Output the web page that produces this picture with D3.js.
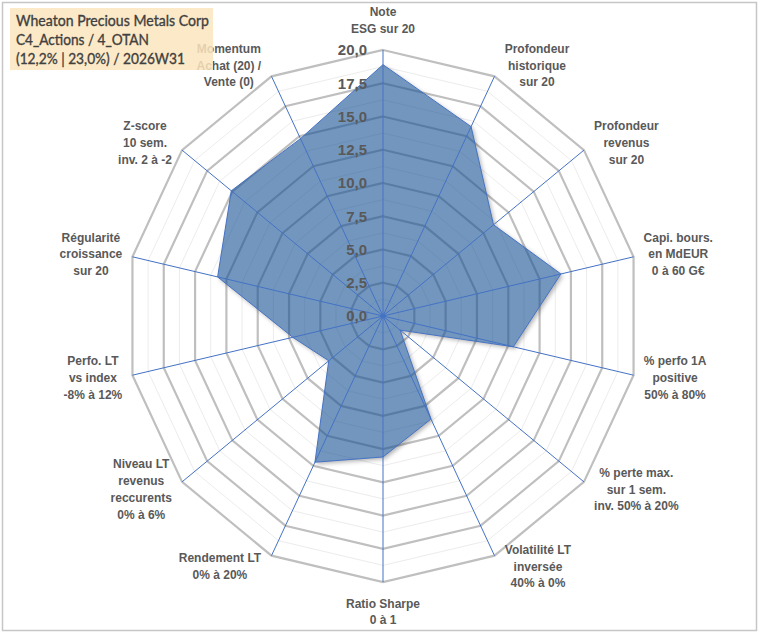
<!DOCTYPE html>
<html>
<head>
<meta charset="utf-8">
<script src="https://cdn.jsdelivr.net/npm/d3@7"></script>
<style>
  body { margin: 0; background: #fff; }
  svg { display: block; }
</style>
</head>
<body>
<div id="container"></div>
<script>
// Données du radar : libellés des axes (multi-lignes) et valeurs sur 20

const axisLabels = [
  ["Note", "ESG sur 20"],
  ["Profondeur", "historique", "sur 20"],
  ["Profondeur", "revenus", "sur 20"],
  ["Capi. bours.", "en MdEUR", "0 à 60 G€"],
  ["% perfo 1A", "positive", "50% à 80%"],
  ["% perte max.", "sur 1 sem.", "inv. 50% à 20%"],
  ["Volatilité LT", "inversée", "40% à 0%"],
  ["Ratio Sharpe", "0 à 1"],
  ["Rendement LT", "0% à 20%"],
  ["Niveau LT", "revenus", "reccurents", "0% à 6%"],
  ["Perfo. LT", "vs index", "-8% à 12%"],
  ["Régularité", "croissance", "sur 20"],
  ["Z-score", "10 sem.", "inv. 2 à -2"],
  ["Momentum", "Achat (20) /", "Vente (0)"]
];

const scores = [18.9, 15.8, 11.0, 14.2, 10.4, 1.7, 8.6, 10.6, 12.2, 5.4, 7.2, 13.2, 15.1, 14.8];

const tickValues = [0, 2.5, 5, 7.5, 10, 12.5, 15, 17.5, 20];
const minorTicks = [1.25, 3.75, 6.25, 8.75, 11.25, 13.75, 16.25, 18.75];

const titleLines = ["Wheaton Precious Metals Corp", "C4_Actions / 4_OTAN", "(12,2% | 23,0%) / 2026W31"];
const titleWidths = [193, 133, 169];

// Recuadro general

const WIDTH = 760;
const HEIGHT = 633;
const CX = 383;
const CY = 316;
const RX = 257;   // le radar d'origine est un peu écrasé horizontalement
const RY = 266;

const svg = d3.select('#container')
              .append('svg')
                .attr('width', WIDTH)
                .attr('height', HEIGHT);

svg.append('rect')
   .attr('x', 2.5).attr('y', 2.5)
   .attr('width', WIDTH - 6).attr('height', HEIGHT - 5)
   .attr('fill', '#fff')
   .attr('stroke', '#c6c6c6')
   .attr('stroke-width', 1.5);

const chart = svg.append('g')
                 .attr('transform', `translate(${CX}, ${CY})`);

// Escalas: angle par axe, rayon en x et en y

const n = axisLabels.length;
const angle = d3.scaleLinear().domain([0, n]).range([0, 2 * Math.PI]);
const rX = d3.scaleLinear().domain([0, 20]).range([0, RX]);
const rY = d3.scaleLinear().domain([0, 20]).range([0, RY]);

const px = (i, v) => rX(v) * Math.sin(angle(i));
const py = (i, v) => -rY(v) * Math.cos(angle(i));

const ring = d3.line().curve(d3.curveLinearClosed);
const ringPoints = v => d3.range(n).map(i => [px(i, v), py(i, v)]);
const seriePath = ring(scores.map((v, i) => [px(i, v), py(i, v)]));

// Ombre portée : copie floue décalée, masquée par la forme elle-même
const defs = svg.append('defs');
defs.append('filter')
      .attr('id', 'blur')
      .attr('x', '-10%').attr('y', '-10%')
      .attr('width', '120%').attr('height', '120%')
    .append('feGaussianBlur')
      .attr('stdDeviation', 2);

const mask = defs.append('mask')
                 .attr('id', 'outside')
                 .attr('maskUnits', 'userSpaceOnUse')
                 .attr('x', -CX).attr('y', -CY)
                 .attr('width', WIDTH).attr('height', HEIGHT);
mask.append('rect')
    .attr('x', -CX).attr('y', -CY)
    .attr('width', WIDTH).attr('height', HEIGHT)
    .attr('fill', '#fff');
mask.append('path')
    .attr('d', seriePath)
    .attr('fill', '#000');

// Grille secondaire puis principale

chart.append('g')
     .selectAll('path')
     .data(minorTicks)
     .enter()
   .append('path')
     .attr('d', d => ring(ringPoints(d)))
     .attr('fill', 'none')
     .attr('stroke', '#ececec')
     .attr('stroke-width', 1);

chart.append('g')
     .selectAll('path')
     .data(tickValues.filter(d => d > 0))
     .enter()
   .append('path')
     .attr('d', d => ring(ringPoints(d)))
     .attr('fill', 'none')
     .attr('stroke', '#bfbfbf')
     .attr('stroke-width', 2.2);

// Série

chart.append('g')
     .attr('mask', 'url(#outside)')
   .append('path')
     .attr('d', seriePath)
     .attr('transform', 'translate(2, 2)')
     .attr('fill', '#000')
     .attr('fill-opacity', 0.3)
     .attr('filter', 'url(#blur)');

chart.append('path')
     .attr('d', seriePath)
     .attr('fill', '#165093')
     .attr('fill-opacity', 0.6)
     .attr('stroke', '#4472c4')
     .attr('stroke-width', 1);

// Axes radiaux

chart.append('g')
     .selectAll('line')
     .data(d3.range(n))
     .enter()
   .append('line')
     .attr('x1', 0).attr('y1', 0)
     .attr('x2', i => px(i, 20))
     .attr('y2', i => py(i, 20))
     .attr('stroke', '#4472c4')
     .attr('stroke-width', 1);

chart.append('circle')
     .attr('r', 2.5)
     .attr('fill', '#4472c4');

// Graduations sur l'axe vertical

const fr = d3.formatLocale({ decimal: ',', thousands: ' ', grouping: [3], currency: ['', '€'] });
const fmt = fr.format('.1f');

chart.append('g')
     .selectAll('text')
     .data(tickValues)
     .enter()
   .append('text')
     .attr('x', -16)
     .attr('y', d => py(0, d))
     .attr('dy', '0.35em')
     .attr('text-anchor', 'end')
     .attr('font-family', 'Liberation Sans, Arial, sans-serif')
     .attr('font-weight', 'bold')
     .attr('font-size', 15)
     .attr('fill', '#595959')
     .text(fmt);

// Libellés des axes

const LH = 16.7;
const labels = chart.append('g')
                    .selectAll('g')
                    .data(axisLabels)
                    .enter()
                  .append('g');

labels.append('text')
      .attr('text-anchor', 'middle')
      .attr('font-family', 'Liberation Sans, Arial, sans-serif')
      .attr('font-weight', 'bold')
      .attr('font-size', 12)
      .attr('fill', '#595959')
      .selectAll('tspan')
      .data(d => d.map((t, k) => ({ t, k, m: d.length })))
      .enter()
    .append('tspan')
      .attr('x', 0)
      .attr('y', d => (d.k - (d.m - 1) / 2) * LH)
      .attr('dy', '0.35em')
      .text(d => d.t);

labels.attr('transform', function(d, i) {
  const a = angle(i);
  const s = Math.sin(a), c = Math.cos(a);
  const ex = px(i, 20), ey = py(i, 20);
  const w = this.getBBox().width;
  const h = d.length * LH;
  let gx, gy;
  if (Math.abs(s) < 0.05) {
    gx = ex;
    gy = ey - c * (h / 2 + 13);
  } else {
    gx = s > 0 ? ex + 10 + w / 2 : ex - 10 - w / 2;
    gy = ey - c * 12;
  }
  return `translate(${gx}, ${gy})`;
});

// Cartouche du titre, par-dessus le reste

const title = svg.append('g');
title.append('rect')
     .attr('x', 10).attr('y', 8)
     .attr('width', 203).attr('height', 62)
     .attr('fill', '#fce5bd')
     .attr('fill-opacity', 0.85);

title.append('g')
     .selectAll('text')
     .data(titleLines)
     .enter()
   .append('text')
     .attr('x', 16)
     .attr('y', (d, k) => 21 + k * 19)
     .attr('dy', '0.35em')
     .attr('font-family', 'Lato, sans-serif')
     .attr('font-size', 15.5)
     .attr('fill', '#404040')
     .attr('stroke', '#404040')
     .attr('stroke-width', 0.35)
     .attr('textLength', (d, k) => titleWidths[k])
     .attr('lengthAdjust', 'spacingAndGlyphs')
     .text(d => d);
</script>
</body>
</html>
